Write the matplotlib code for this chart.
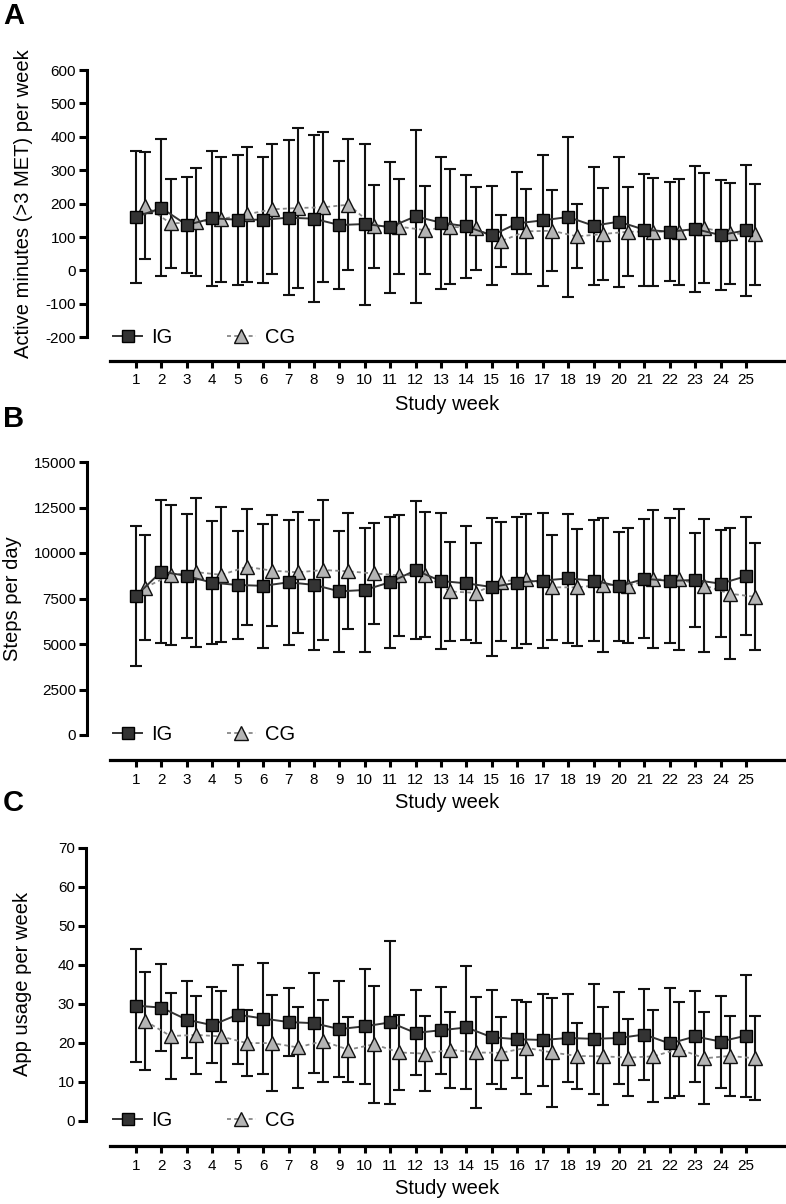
import matplotlib
matplotlib.use('Agg')
import matplotlib.pyplot as plt

plt.rcParams['font.family'] = ['Liberation Sans', 'DejaVu Sans']

weeks = list(range(1, 26))
week_labels = [str(w) for w in weeks]
group_labels = ['IG', 'CG']

# Panel A: active minutes (>3 MET) per week
active_ig_mean = [160, 187, 136, 156, 152, 152, 158, 155, 136, 139, 130, 162, 143,
                  132, 105, 141, 150, 160, 134, 146, 122, 116, 124, 106, 120]
active_ig_sd = [198, 205, 144, 202, 195, 188, 232, 250, 191, 241, 196, 258, 198,
                154, 147, 153, 197, 240, 176, 194, 168, 148, 188, 165, 196]
active_cg_mean = [194, 141, 144, 154, 168, 183, 187, 189, 197, 132, 131, 121, 131,
                  126, 88, 117, 119, 102, 109, 116, 116, 116, 127, 111, 108]
active_cg_sd = [161, 134, 162, 187, 201, 195, 239, 224, 195, 125, 143, 131, 172,
                124, 78, 127, 121, 96, 137, 133, 162, 158, 165, 151, 151]

# Panel B: steps per day
steps_ig_mean = [7647, 8983, 8736, 8370, 8242, 8196, 8388, 8251, 7894, 7967, 8397, 9047, 8461,
                 8333, 8132, 8370, 8489, 8599, 8489, 8169, 8581, 8471, 8517, 8315, 8727]
steps_ig_sd = [3855, 3947, 3425, 3388, 2985, 3416, 3425, 3562, 3315, 3407, 3599, 3791, 3718,
               3132, 3810, 3608, 3709, 3526, 3306, 2985, 3269, 3434, 2601, 2949, 3233]
steps_cg_mean = [8104, 8791, 8950, 8800, 9240, 9029, 8938, 9066, 8993, 8874, 8773, 8810, 7885,
                 7811, 8434, 8572, 8114, 8114, 8260, 8214, 8553, 8544, 8214, 7766, 7592]
steps_cg_sd = [2885, 3828, 4093, 3709, 3178, 3059, 3315, 3846, 3187, 2793, 3333, 3443, 2701,
               2738, 3251, 3590, 2894, 3205, 3681, 3178, 3791, 3874, 3636, 3590, 2939]

# Panel C: app usage per week
app_ig_mean = [29.5, 29.0, 25.9, 24.5, 27.2, 26.2, 25.3, 25.0, 23.5, 24.2, 25.2, 22.5, 23.2,
               23.9, 21.4, 20.9, 20.7, 21.2, 21.0, 21.2, 22.1, 19.8, 21.6, 20.3, 21.8]
app_ig_sd = [14.4, 11.2, 9.9, 9.7, 12.6, 14.3, 8.8, 12.8, 12.3, 14.8, 20.8, 10.9, 11.2,
             15.7, 12.1, 10.0, 11.7, 11.3, 14.1, 11.8, 11.7, 14.1, 11.6, 11.8, 15.6]
app_cg_mean = [25.6, 21.7, 22.0, 21.6, 19.9, 19.9, 18.8, 20.4, 18.2, 19.6, 17.5, 17.2, 18.2,
               17.5, 17.4, 18.7, 17.5, 16.6, 16.5, 16.2, 16.5, 18.4, 16.0, 16.6, 16.0]
app_cg_sd = [12.5, 11.1, 9.9, 11.6, 8.5, 12.3, 10.3, 10.5, 8.4, 15.0, 9.6, 9.6, 9.7,
             14.2, 9.3, 11.8, 13.9, 8.4, 12.6, 9.8, 11.8, 12.1, 11.8, 10.2, 10.8]

W, H = 786, 1204
fig = plt.figure(figsize=(W / 100, H / 100), dpi=100)

# pixel geometry helpers
x1_px, x25_px = 136, 746
dx = (x25_px - x1_px) / 24.0
cg_offset = 0.36

panels = [
    dict(letter='A', letter_y=16, left=87, top_val=600, bot_val=-200, top_px=70, bot_tick_px=337.3,
         line_px=361, yticks=list(range(-200, 601, 100)),
         ylabel='Active minutes (>3 MET) per week', ylab_x=33,
         ig=(active_ig_mean, active_ig_sd), cg=(active_cg_mean, active_cg_sd)),
    dict(letter='B', letter_y=419, left=87, top_val=15000, bot_val=0, top_px=462, bot_tick_px=735,
         line_px=760, yticks=list(range(0, 15001, 2500)),
         ylabel='Steps per day', ylab_x=22,
         ig=(steps_ig_mean, steps_ig_sd), cg=(steps_cg_mean, steps_cg_sd)),
    dict(letter='C', letter_y=803, left=86, top_val=70, bot_val=0, top_px=847.7, bot_tick_px=1120.7,
         line_px=1146, yticks=list(range(0, 71, 10)),
         ylabel='App usage per week', ylab_x=32,
         ig=(app_ig_mean, app_ig_sd), cg=(app_cg_mean, app_cg_sd)),
]

right_px = 784
for p in panels:
    left = p['left']
    ax = fig.add_axes([left / W, 1 - p['line_px'] / H, (right_px - left) / W,
                       (p['line_px'] - p['top_px']) / H])
    xmin = 1 - (x1_px - left) / dx
    xmax = 1 + (right_px - x1_px) / dx
    ax.set_xlim(xmin, xmax)
    per_px = (p['top_val'] - p['bot_val']) / (p['bot_tick_px'] - p['top_px'])
    ymin = p['bot_val'] - (p['line_px'] - p['bot_tick_px']) * per_px
    ax.set_ylim(ymin, p['top_val'])

    igm, igs = p['ig']
    cgm, cgs = p['cg']
    xcg = [w + cg_offset for w in weeks]

    ax.errorbar(weeks, igm, yerr=igs, fmt='none', ecolor='#111111', elinewidth=1.5,
                capsize=4, capthick=1.5, zorder=2, clip_on=False)
    ax.errorbar(xcg, cgm, yerr=cgs, fmt='none', ecolor='#111111', elinewidth=1.5,
                capsize=4, capthick=1.5, zorder=2, clip_on=False)
    h_ig, = ax.plot(weeks, igm, '-', color='#333333', lw=1.4, marker='s', ms=8.8,
                    mfc='#333333', mec='#000000', mew=1.0, zorder=4, clip_on=False)
    h_cg, = ax.plot(xcg, cgm, color='#888888', lw=1.3, linestyle=(0, (2.2, 1.8)),
                    marker='^', ms=9.5, mfc='#b4b4b4', mec='#111111', mew=1.0, zorder=3,
                    clip_on=False)

    for s in ['top', 'right']:
        ax.spines[s].set_visible(False)
    ax.spines['left'].set_linewidth(2.2)
    ax.spines['bottom'].set_linewidth(2.3)
    ax.spines['left'].set_bounds(p['bot_val'], p['top_val'])
    xs_lo = 1 - (x1_px - 110) / dx
    ax.spines['bottom'].set_bounds(xs_lo, xmax)

    ax.set_yticks(p['yticks'])
    ax.set_yticklabels([str(t) for t in p['yticks']])
    ax.set_xticks(weeks)
    ax.set_xticklabels(week_labels)
    ax.tick_params(axis='y', direction='out', length=6, width=2.2, pad=2,
                   labelsize=11, colors='#000000')
    ax.tick_params(axis='x', direction='out', length=5, width=2.2, pad=4,
                   labelsize=11, colors='#000000')

    ax.set_ylabel(p['ylabel'], fontsize=14.5)
    mid_val = (p['top_val'] + p['bot_val']) / 2
    ax.yaxis.set_label_coords((p['ylab_x'] - left) / (right_px - left),
                              (mid_val - ymin) / (p['top_val'] - ymin))
    ax.set_xlabel('Study week', fontsize=14.5)
    ax.xaxis.set_label_coords(((xs_lo + xmax) / 2 - xmin) / (xmax - xmin),
                              -(43) / (p['line_px'] - p['top_px']))
    ax.xaxis.label.set_va('center')

    ax.legend([h_ig, h_cg], group_labels, ncol=2, frameon=False, fontsize=14.5,
              loc='center left', bbox_to_anchor=(1 + (113 - x1_px) / dx, p['bot_val']),
              bbox_transform=ax.transData, borderpad=0, borderaxespad=0,
              handlelength=1.45, handletextpad=0.45, columnspacing=2.7)

    fig.text(3 / W, 1 - p['letter_y'] / H, p['letter'], fontsize=21, fontweight='bold',
             ha='left', va='center')

fig.savefig('out.png', dpi=100)
